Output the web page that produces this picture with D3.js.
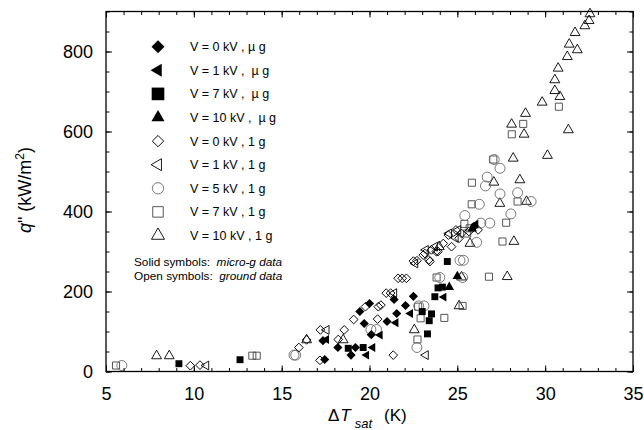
<!DOCTYPE html>
<html>
<head>
<meta charset="utf-8">
<script src="https://cdn.jsdelivr.net/npm/d3@7"></script>
<style>
  html, body { margin: 0; padding: 0; background: #fff; }
  svg { display: block; font-family: "Liberation Sans", Arial, Helvetica, sans-serif; }
</style>
</head>
<body>
<svg id="chart" width="644" height="430"></svg>
<script>
// data: [dT_sat (K), q'' (kW/m2)]
const v0Micro = [[17.45, 30], [17.35, 77], [18.2, 60], [18.95, 41], [19.2, 60], [19.45, 150], [19.7, 120],
  [20.0, 170], [20.1, 92], [21.0, 125], [21.55, 145], [21.4, 180], [22.05, 165], [22.5, 188], [25.95, 362]];
const v1Micro = [[17.55, 80], [19.83, 41], [20.18, 60], [20.6, 91], [21.5, 122], [22.33, 145], [24.23, 186],
  [26.05, 368]];
const v7Micro = [[9.15, 19.5], [12.63, 29.5], [18.79, 58], [19.64, 60], [23.3, 94], [23.0, 150], [23.53, 144],
  [23.4, 127], [23.72, 187], [23.9, 209], [24.15, 211], [24.43, 275]];
const v10Micro = [[24.54, 211], [25.0, 238], [25.85, 357]];
const v0Ground = [[9.8, 14.5], [10.35, 16], [15.98, 60], [16.42, 79], [17.2, 104], [17.18, 28], [18.22, 80],
  [18.56, 104], [19.1, 130], [19.77, 162], [20.5, 162], [20.65, 166], [20.46, 131], [20.95, 196], [21.2, 196],
  [21.35, 41], [21.63, 233], [21.86, 233], [22.1, 233], [22.5, 276], [22.7, 277], [23.06, 291], [23.38, 279],
  [23.53, 304], [23.9, 300], [24.2, 320], [24.49, 341], [24.67, 312], [24.92, 354], [25.1, 333], [25.24, 345],
  [25.66, 350], [26.18, 354], [23.15, 295], [23.8, 300], [23.44, 275]];
const v1Ground = [[10.7, 15], [17.55, 104], [21.4, 196], [22.6, 270], [23.2, 41], [23.2, 304], [23.72, 312],
  [24.52, 345], [25.05, 354], [24.9, 334]];
const v5Ground = [[5.9, 15], [15.7, 41], [15.8, 41], [20.08, 105], [20.4, 105], [22.7, 60], [22.8, 164],
  [23.1, 164], [24.0, 235], [25.15, 278], [25.35, 278], [25.3, 235], [25.43, 390], [26.1, 323], [26.25, 418],
  [26.34, 371], [26.85, 371], [26.6, 464], [26.7, 486], [27.1, 530], [27.43, 508], [27.43, 444], [28.43, 447],
  [28.05, 394], [29.2, 425]];
const v7Ground = [[5.57, 15], [13.33, 39.5], [13.58, 39.5], [22.73, 80], [22.91, 133], [22.77, 162], [23.82, 235],
  [24.26, 134], [25.3, 164], [26.8, 237], [25.56, 345], [25.7, 358], [25.4, 369], [25.82, 418], [25.83, 472],
  [27.05, 530], [27.57, 325], [27.78, 372], [28.43, 425], [28.1, 593], [28.75, 619], [30.78, 662]];
const v10Ground = [[7.88, 39], [8.6, 39], [16.42, 79], [18.5, 79], [22.55, 104], [23.97, 312], [25.1, 164],
  [25.24, 236], [25.72, 320], [27.08, 473], [27.42, 420], [27.84, 237], [28.18, 533], [28.22, 325], [28.56, 479],
  [28.8, 593], [28.94, 425], [28.09, 618], [28.88, 645], [29.83, 673], [30.13, 540], [30.55, 729], [30.55, 702],
  [30.84, 687], [30.74, 758], [31.26, 787], [31.37, 818], [31.83, 804], [31.32, 604], [31.7, 847], [32.26, 864],
  [32.5, 877], [32.55, 894]];

const legendLabels = ["V = 0 kV , \u00b5 g", "V = 1 kV ,  \u00b5 g", "V = 7 kV ,  \u00b5 g", "V = 10 kV ,  \u00b5 g",
  "V = 0 kV , 1 g", "V = 1 kV , 1 g", "V = 5 kV , 1 g", "V = 7 kV , 1 g", "V = 10 kV , 1 g"];
const xTicks = [5, 10, 15, 20, 25, 30, 35];
const yTicks = [0, 200, 400, 600, 800];

// marker style per series, same order as legendLabels
const series = [
  { data: v0Micro, shape: "diamond", fill: true, size: 42, lsize: 84 },
  { data: v1Micro, shape: "left", fill: true, size: 34, lsize: 72 },
  { data: v7Micro, shape: "square", fill: true, size: 48, lsize: 160 },
  { data: v10Micro, shape: "triangle", fill: true, size: 40, lsize: 74 },
  { data: v0Ground, shape: "diamond", fill: false, size: 38, lsize: 64 },
  { data: v1Ground, shape: "left", fill: false, size: 34, lsize: 62 },
  { data: v5Ground, shape: "circle", fill: false, size: 78, lsize: 100, stroke: "#6a6a6a" },
  { data: v7Ground, shape: "square", fill: false, size: 50, lsize: 110, stroke: "#444" },
  { data: v10Ground, shape: "triangle", fill: false, size: 42, lsize: 74 },
];

const svg = d3.select("#chart");
const x = d3.scaleLinear().domain([5, 35]).range([106, 633]);
const y = d3.scaleLinear().domain([0, 900]).range([371.5, 11.5]);

const symbolTypes = {
  diamond: d3.symbolSquare,
  left: d3.symbolTriangle,
  square: d3.symbolSquare,
  triangle: d3.symbolTriangle,
  circle: d3.symbolCircle,
};
const rotation = { diamond: 45, left: -90, square: 0, triangle: 0, circle: 0 };

function drawMarker(sel, s, size) {
  sel.append("path")
    .attr("d", d3.symbol().type(symbolTypes[s.shape]).size(size)())
    .attr("transform", (d) => `translate(${d[0]},${d[1]}) rotate(${rotation[s.shape]})`)
    .attr("fill", s.fill ? "#000" : "none")
    .attr("stroke", s.fill ? "none" : (s.stroke || "#000"))
    .attr("stroke-width", 0.9);
}

// points (ground data underneath)
const pts = svg.append("g");
[...series].reverse().forEach((s) => {
  const g = pts.append("g");
  g.selectAll("g")
    .data(s.data.map((d) => [x(d[0]), y(d[1])]))
    .join("g")
    .each(function (d) { drawMarker(d3.select(this).datum(d), s, s.size); });
});

// axes
const tickFont = (g) => g.selectAll("text").attr("font-size", 18).attr("fill", "#000")
  .attr("font-family", "Liberation Sans, Arial, sans-serif");
const clean = (g) => g.select(".domain").remove();

svg.append("g").attr("transform", "translate(0,371.5)")
  .call(d3.axisBottom(x).tickValues(d3.range(5, 36, 1)).tickSize(-3.5).tickFormat(""))
  .call(clean);
svg.append("g").attr("transform", "translate(0,371.5)")
  .call(d3.axisBottom(x).tickValues(xTicks).tickSize(-6).tickPadding(16).tickFormat(d3.format("d")))
  .call(clean).call(tickFont);
svg.append("g").attr("transform", "translate(0,11.5)")
  .call(d3.axisTop(x).tickValues(d3.range(5, 36, 1)).tickSize(-3.5).tickFormat(""))
  .call(clean);
svg.append("g").attr("transform", "translate(0,11.5)")
  .call(d3.axisTop(x).tickValues(xTicks).tickSize(-6).tickFormat(""))
  .call(clean);

svg.append("g").attr("transform", "translate(106,0)")
  .call(d3.axisLeft(y).tickValues(d3.range(0, 901, 50)).tickSize(-3.5).tickFormat(""))
  .call(clean);
svg.append("g").attr("transform", "translate(106,0)")
  .call(d3.axisLeft(y).tickValues(yTicks).tickSize(-6).tickPadding(13).tickFormat(d3.format("d")))
  .call(clean).call(tickFont);
svg.append("g").attr("transform", "translate(633,0)")
  .call(d3.axisRight(y).tickValues(d3.range(0, 901, 50)).tickSize(-3.5).tickFormat(""))
  .call(clean);
svg.append("g").attr("transform", "translate(633,0)")
  .call(d3.axisRight(y).tickValues(yTicks).tickSize(-6).tickFormat(""))
  .call(clean);

svg.selectAll(".tick line").attr("stroke", "#000").attr("stroke-width", 1);

svg.append("rect")
  .attr("x", x(5)).attr("y", y(900))
  .attr("width", x(35) - x(5)).attr("height", y(0) - y(900))
  .attr("fill", "none").attr("stroke", "#000").attr("stroke-width", 1.3);

// axis titles
const xt = svg.append("text").attr("x", 328).attr("y", 421).attr("font-size", 17);
xt.append("tspan").text("\u0394");
xt.append("tspan").attr("font-style", "italic").attr("dx", 1).text("T");
xt.append("tspan").attr("font-style", "italic").attr("font-size", 13).attr("dx", 4).attr("dy", 7).text("sat");
xt.append("tspan").attr("dx", 12).attr("dy", -7).text("(K)");

const yt = svg.append("text").attr("transform", "translate(31,190) rotate(-90)")
  .attr("text-anchor", "middle").attr("font-size", 18);
yt.append("tspan").attr("font-style", "italic").text("q");
yt.append("tspan").text("\" (kW/m");
yt.append("tspan").attr("font-size", 12).attr("dy", -7).text("2");
yt.append("tspan").attr("dy", 7).text(")");

// legend
const legend = svg.append("g");
series.forEach((s, i) => {
  const cy = 46.7 + i * 23.6;
  drawMarker(legend.append("g").datum([158, cy]), s, s.lsize);
  legend.append("text").attr("x", 190).attr("y", cy + 4.5).attr("font-size", 12.5)
    .attr("xml:space", "preserve").style("white-space", "pre").text(legendLabels[i]);
});

const note1 = svg.append("text").attr("x", 134).attr("y", 266).attr("font-size", 11.8)
  .style("white-space", "pre");
note1.append("tspan").text("Solid symbols:  ");
note1.append("tspan").attr("font-style", "italic").text("micro-g data");
const note2 = svg.append("text").attr("x", 134).attr("y", 280).attr("font-size", 11.8)
  .style("white-space", "pre");
note2.append("tspan").text("Open symbols:  ");
note2.append("tspan").attr("font-style", "italic").text("ground data");
</script>
</body>
</html>
